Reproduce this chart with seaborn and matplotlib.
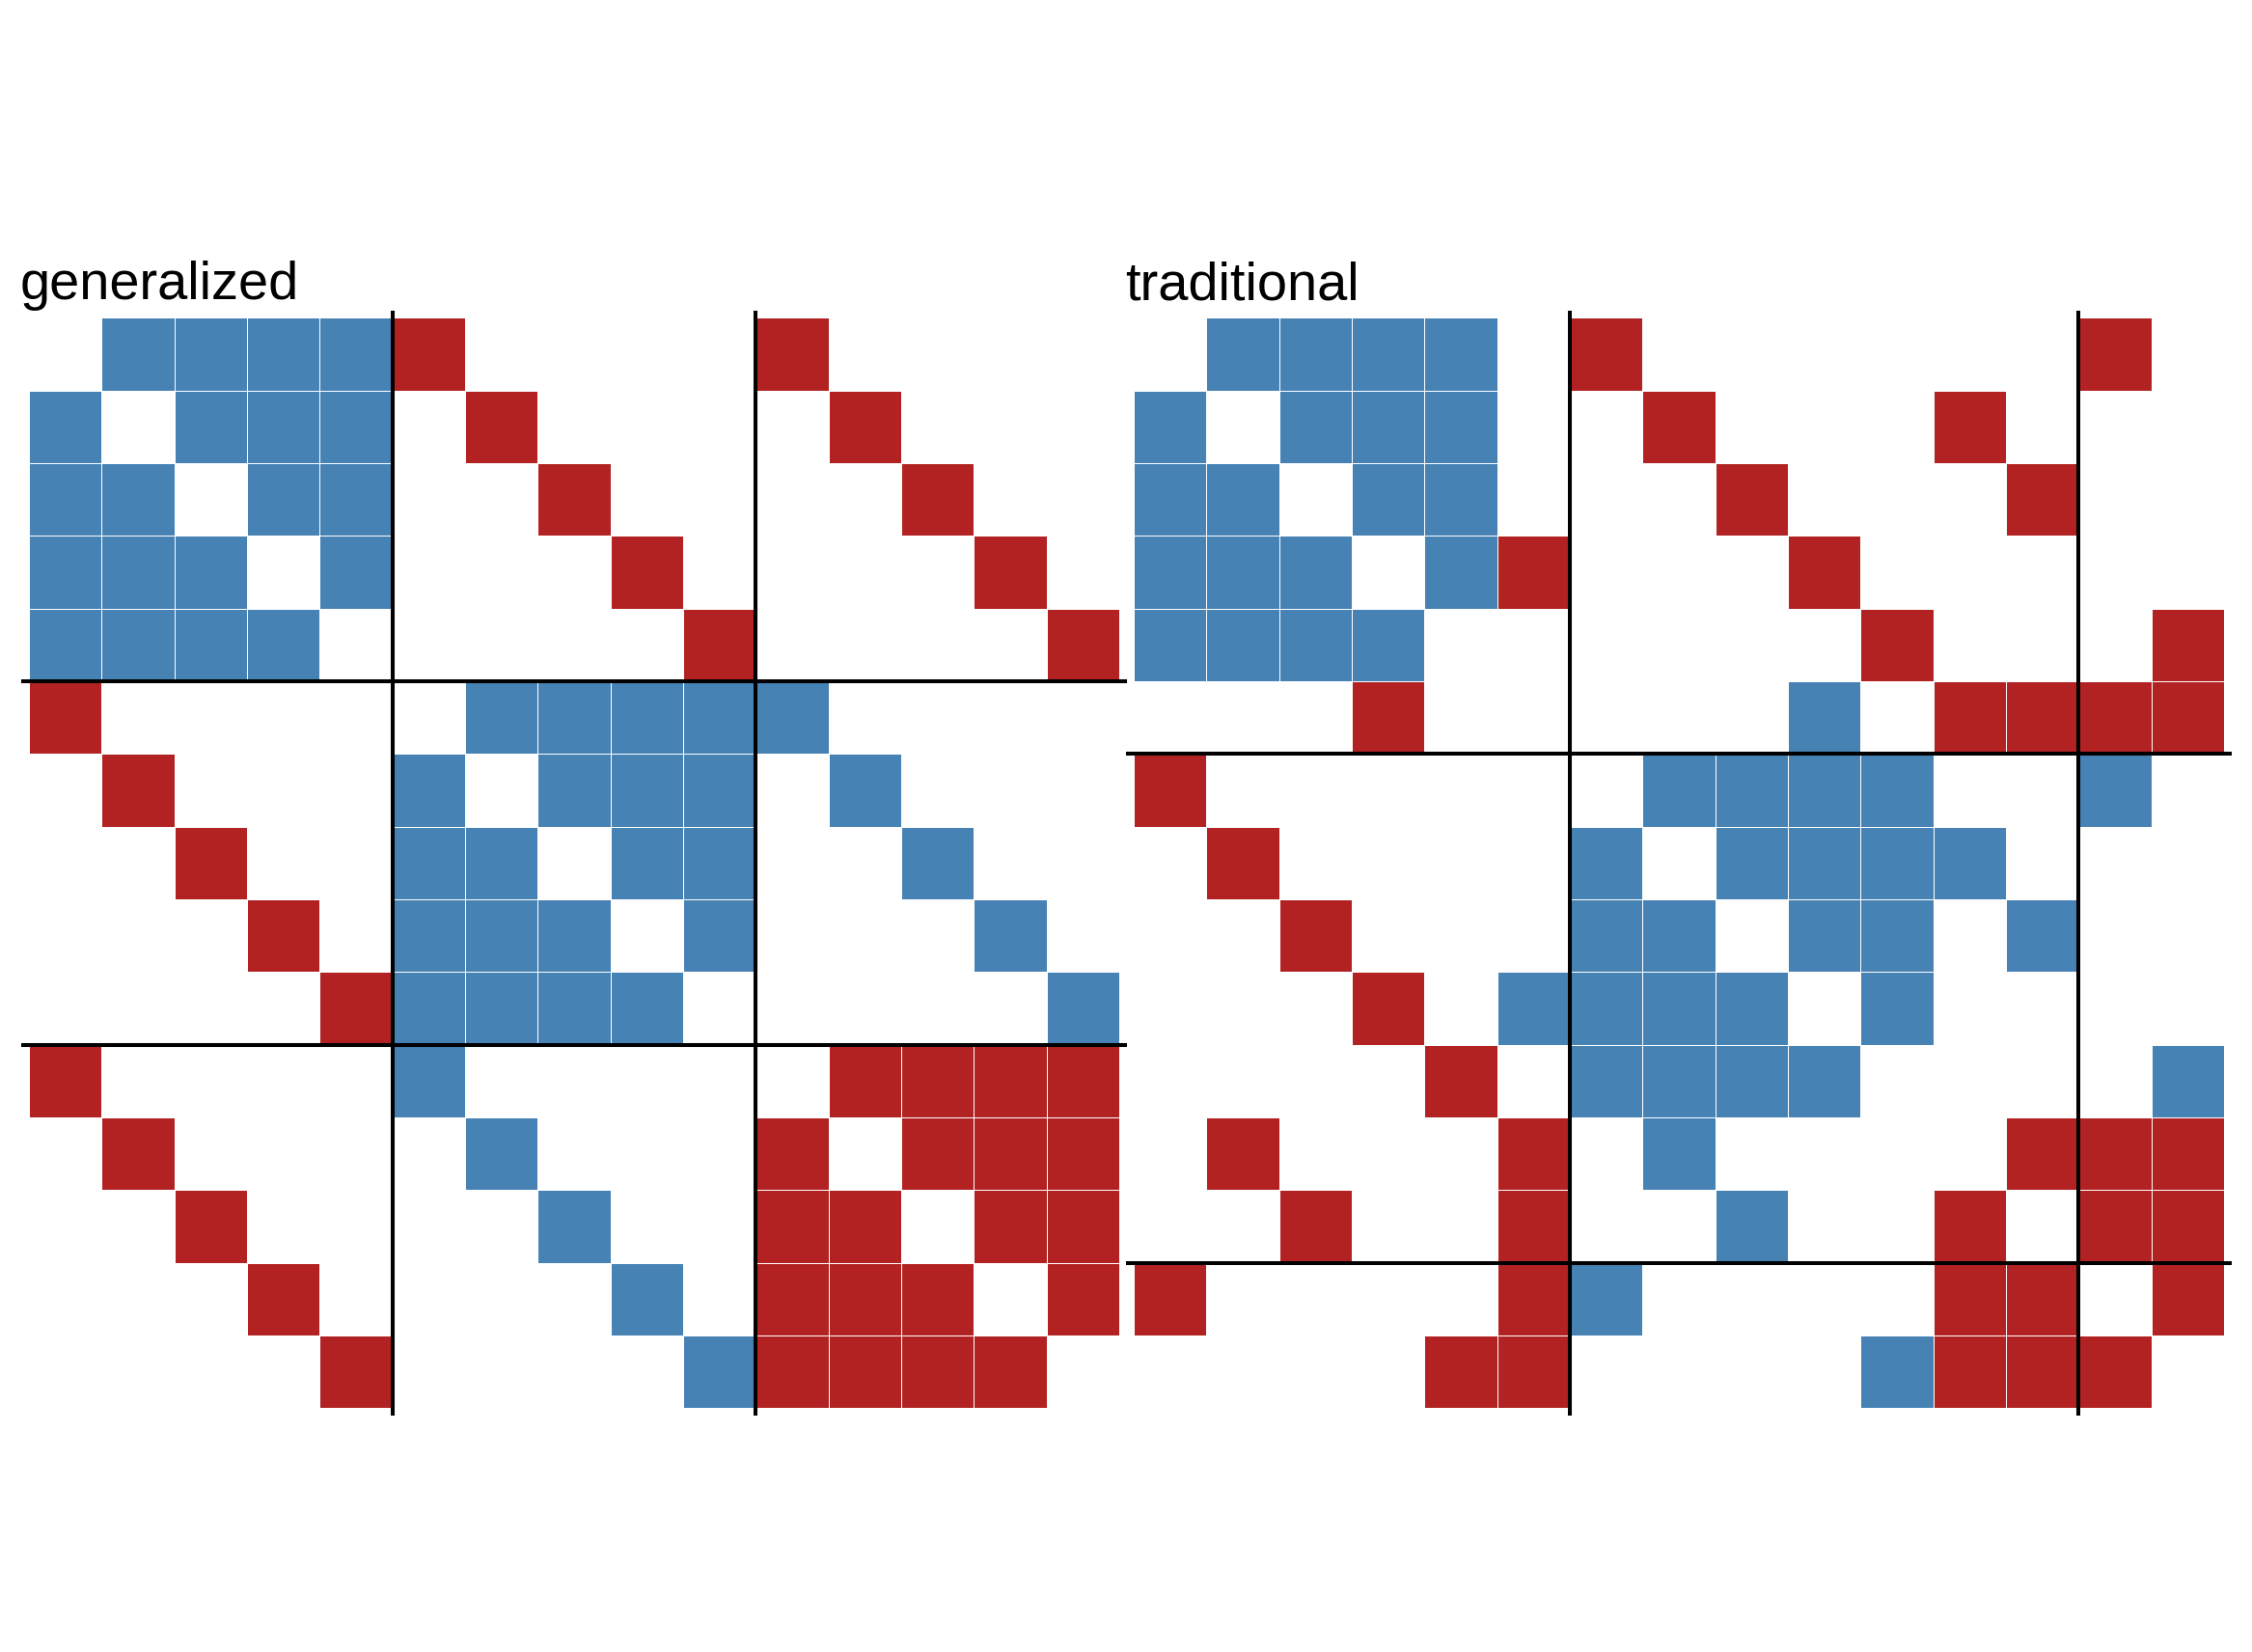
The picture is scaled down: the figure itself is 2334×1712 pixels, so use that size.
import numpy as np
import pandas as pd
import matplotlib
matplotlib.use("Agg")
import matplotlib.pyplot as plt
from matplotlib.colors import ListedColormap
import seaborn as sns

sns.set_style("white")
plt.rcParams['font.family'] = ['Liberation Sans', 'DejaVu Sans']

# ---- data ----
# '.' = no sign (white), 'B' = positive (blue), 'R' = negative (red)
titles = ["generalized", "traditional"]

generalized_rows = [
    ".BBBBR....R....",
    "B.BBB.R....R...",
    "BB.BB..R....R..",
    "BBB.B...R....R.",
    "BBBB.....R....R",
    "R.....BBBBB....",
    ".R...B.BBB.B...",
    "..R..BB.BB..B..",
    "...R.BBB.B...B.",
    "....RBBBB.....B",
    "R....B.....RRRR",
    ".R....B...R.RRR",
    "..R....B..RR.RR",
    "...R....B.RRR.R",
    "....R....BRRRR.",
]

traditional_rows = [
    ".BBBB.R......R.",
    "B.BBB..R...R...",
    "BB.BB...R...R..",
    "BBB.BR...R.....",
    "BBBB......R...R",
    "...R.....B.RRRR",
    "R......BBBB..B.",
    ".R....B.BBBB...",
    "..R...BB.BB.B..",
    "...R.BBBB.B....",
    "....R.BBBB....B",
    ".R...R.B....RRR",
    "..R..R..B..R.RR",
    "R....RB....RR.R",
    "....RR....BRRR.",
]

generalized_breaks = [5, 10]
traditional_breaks = [6, 13]

code = {'.': 0, 'B': 1, 'R': 2}
cmap = ListedColormap(["white", "#4682B4", "#B22222"])

W, H = 2334, 1712
fig = plt.figure(figsize=(W / 100, H / 100), dpi=100)

grid_px = 1130.0
top_px = 329.3
lefts_px = [30.0, 1175.0]

panels = [(generalized_rows, generalized_breaks), (traditional_rows, traditional_breaks)]

for (rows, breaks), title, left in zip(panels, titles, lefts_px):
    mat = np.array([[code[c] for c in r] for r in rows])
    df = pd.DataFrame(mat)
    ax = fig.add_axes([left / W, (H - top_px - grid_px) / H, grid_px / W, grid_px / H])
    sns.heatmap(df, ax=ax, cmap=cmap, vmin=-0.5, vmax=2.5, cbar=False,
                linewidths=0.6, linecolor="white", square=False,
                xticklabels=False, yticklabels=False)
    n = mat.shape[0]
    ext = 0.1
    for b in breaks:
        ax.plot([b, b], [-ext, n + ext], color="black", lw=2.9, clip_on=False,
                solid_capstyle="butt", zorder=5)
        ax.plot([-ext, n + ext], [b, b], color="black", lw=2.9, clip_on=False,
                solid_capstyle="butt", zorder=5)
    ax.set_xlim(0, n)
    ax.set_ylim(n, 0)
    for s in ax.spines.values():
        s.set_visible(False)
    ax.text(-0.12, -0.256, title, fontsize=40.3, ha="left", va="baseline",
            color="black", clip_on=False)

fig.savefig("out.png", dpi=100, facecolor="white")
